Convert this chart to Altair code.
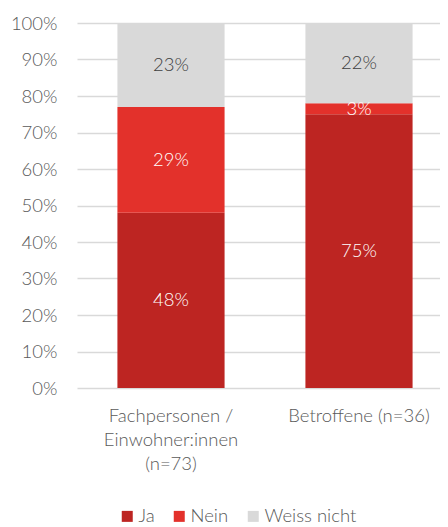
import altair as alt
import pandas as pd

categories = ["Fachpersonen /|Einwohner:innen|(n=73)", "Betroffene (n=36)"]
responses = ["Ja", "Nein", "Weiss nicht"]
ja = [48, 75]
nein = [29, 3]
weiss = [23, 22]
colors = ["#BD2522", "#E3312B", "#D9D9D9"]

rows = []
for i, c in enumerate(categories):
    for k, (r, vals) in enumerate(zip(responses, [ja, nein, weiss])):
        rows.append({"cat": c, "resp": r, "value": vals[i], "ord": k})
df = pd.DataFrame(rows)

FONT = "Lato"
W = 300
FS = 18.5
base = alt.Chart(df)
yscale = alt.Scale(domain=[0, 100], nice=False)
yaxis = alt.Axis(values=list(range(0, 101, 10)), tickCount=11,
                 labelExpr="datum.value + '%'", labelOverlap=False,
                 labelFontSize=FS, labelColor="#595959", labelFont=FONT,
                 labelFontWeight=W,
                 ticks=False, domain=False, labelPadding=20,
                 gridColor="#D9D9D9", gridWidth=1.3)

xscale = alt.Scale(paddingInner=0.43, paddingOuter=0.215, range=[0, 376])
x = alt.X("cat:N", sort=categories, title=None, scale=xscale,
          axis=alt.Axis(labelExpr="split(datum.label, '|')", labelAngle=0,
                        labelFontSize=FS, labelColor="#595959", labelFont=FONT,
                        labelFontWeight=W,
                        labelLineHeight=24, ticks=False, domain=False,
                        labelPadding=18, labelBaseline="top"))

bars = base.mark_bar().encode(
    x=x,
    y=alt.Y("value:Q", stack="zero", title=None, scale=yscale, axis=yaxis),
    color=alt.Color("resp:N", sort=responses,
                    scale=alt.Scale(domain=responses, range=colors),
                    legend=alt.Legend(title=None, orient="none", direction="horizontal",
                                      legendX=41, legendY=484,
                                      symbolType="square", symbolSize=121,
                                      symbolStrokeWidth=0, labelOffset=2,
                                      labelFontSize=FS, labelColor="#595959",
                                      labelFont=FONT, labelFontWeight=W, columnPadding=15,
                                      symbolOffset=0)),
    order=alt.Order("ord:Q"),
)

labels = base.transform_stack(
    stack="value", groupby=["cat"], sort=[alt.SortField("ord")], as_=["y0", "y1"]
).transform_calculate(
    mid="(datum.y0 + datum.y1) / 2",
    label="datum.value + '%'",
).mark_text(fontSize=FS, font=FONT, fontWeight=W, baseline="middle").encode(
    x=alt.X("cat:N", sort=categories, title=None, scale=xscale),
    y=alt.Y("mid:Q", scale=yscale, axis=yaxis, title=None),
    text=alt.Text("label:N"),
    color=alt.condition(alt.datum.resp == "Weiss nicht", alt.value("#404040"), alt.value("white")),
)

chart = alt.layer(bars, labels).properties(
    width=363, height=365,
    padding={"left": 69, "top": 15, "right": 0, "bottom": 140},
    autosize=alt.AutoSizeParams(type="none"),
).configure_view(stroke=None)

chart.save("out.html", embed_options={"renderer": "svg", "actions": False})
